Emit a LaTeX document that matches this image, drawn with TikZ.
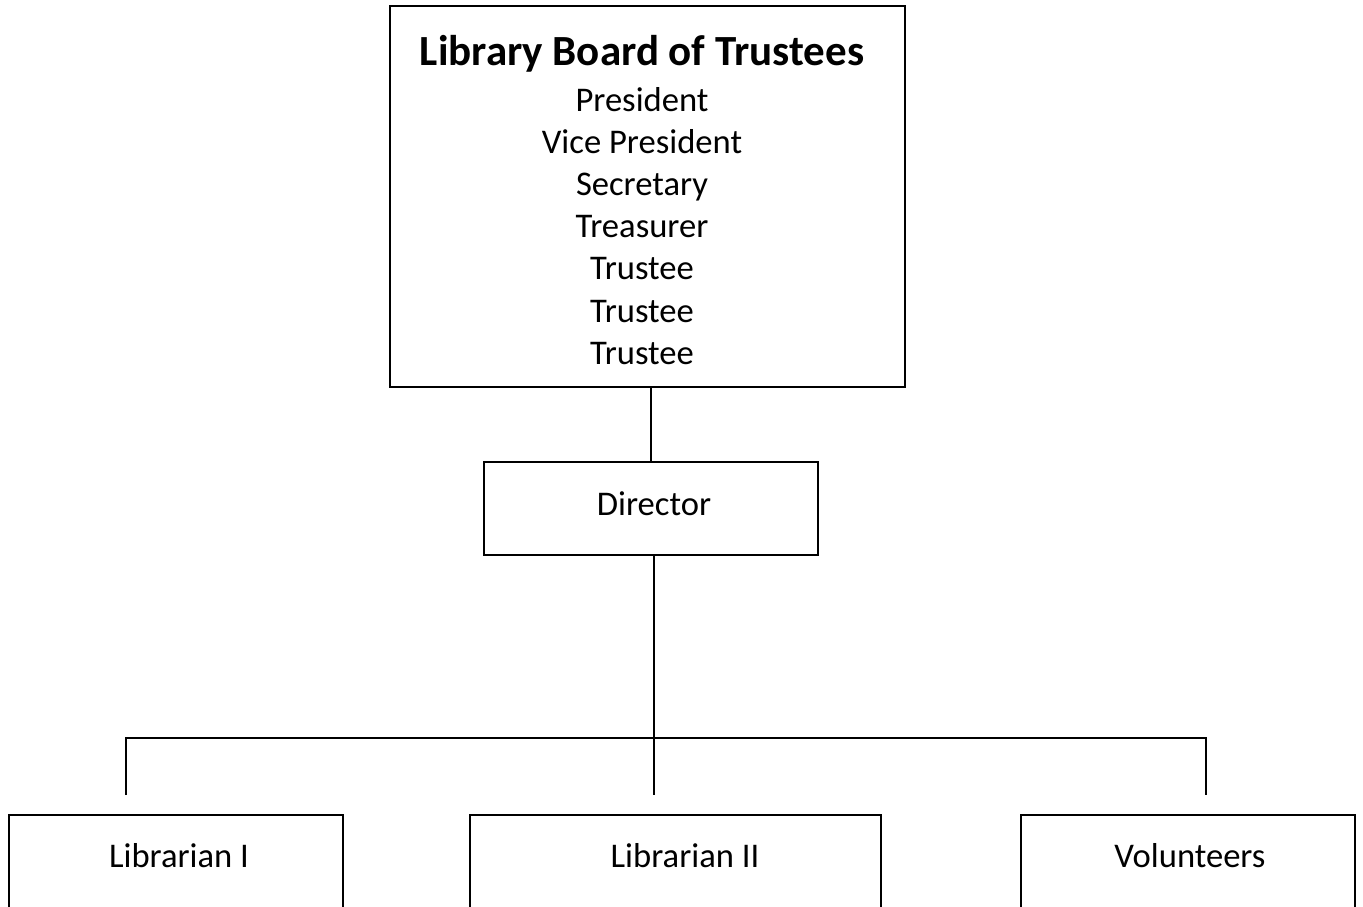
\documentclass[tikz,border=0pt]{standalone}
\usepackage{fontspec}
\setmainfont{Carlito}
\begin{document}
\begin{tikzpicture}[x=1pt,y=-1pt,
  box/.style={draw, line width=2pt, rectangle, inner sep=0pt},
  lbl/.style={font=\fontsize{34.6}{42}\selectfont, anchor=base, inner sep=0pt},
  ttl/.style={font=\fontsize{43}{50}\selectfont\bfseries, anchor=base, inner sep=0pt},
  conn/.style={line width=2pt}]
\useasboundingbox (0,0) rectangle (1363,907);
\clip (0,0) rectangle (1363,907);
% boxes
\node[box, minimum width=515pt, minimum height=381pt] (board) at (647.5,196.5) {};
\node[box, minimum width=334pt, minimum height=93pt] (dir) at (651,508.5) {};
\node[box, minimum width=334pt, minimum height=145pt] (lib1) at (176,887.5) {};
\node[box, minimum width=411pt, minimum height=145pt] (lib2) at (675.5,887.5) {};
\node[box, minimum width=334pt, minimum height=145pt] (vol) at (1188,887.5) {};
% texts
\node[ttl] (t0) at (642,66) {Library Board of Trustees};
\node[lbl] (t1) at (642,111) {President};
\node[lbl] (t2) at (642,153) {Vice President};
\node[lbl] (t3) at (642,195) {Secretary};
\node[lbl] (t4) at (642,237) {Treasurer};
\node[lbl] (t5) at (642,279) {Trustee};
\node[lbl] (t6) at (642,322) {Trustee};
\node[lbl] (t7) at (642,364) {Trustee};
\node[lbl] (dirt) at (654,515) {Director};
\node[lbl] (lib1t) at (179,867) {Librarian I};
\node[lbl] (lib2t) at (685,867) {Librarian II};
\node[lbl] (volt) at (1190,867) {Volunteers};
% connectors
\coordinate (dtop) at (dir.north |- board.south);
\draw[conn] (dtop) -- (dir.north);
\coordinate (dbot) at (654,555);
\coordinate (hub) at (654,738);
\coordinate (hl) at (126,738);
\coordinate (hr) at (1206,738);
\coordinate (e1) at (126,795);
\coordinate (e2) at (654,795);
\coordinate (e3) at (1206,795);
\draw[conn] (dbot) -- (e2);
\draw[conn] (e1) -- (hl) -- (hr) -- (e3);
\end{tikzpicture}
\end{document}
